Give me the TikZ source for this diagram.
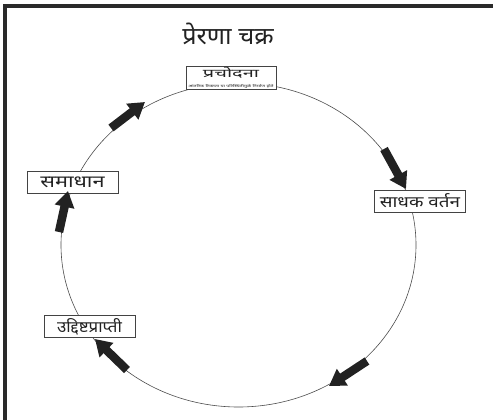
\documentclass[tikz,border=0pt]{standalone}
\usepackage{fontspec}
\newfontfamily\deva[Script=Devanagari]{Noto Sans}
\usetikzlibrary{arrows.meta}
\definecolor{framec}{HTML}{2A2A2A}
\definecolor{inkc}{HTML}{222222}
\begin{document}
\begin{tikzpicture}[x=1pt,y=-1pt,
  box/.style={draw=inkc!85, line width=0.8pt, fill=white, text=inkc, inner sep=1pt,
    minimum width=91pt, minimum height=22pt, align=center},
  blockarrow/.style={line width=8.5pt, draw=inkc, -{Triangle[width=19pt,length=16pt]}},
  cycleline/.style={draw=black!70, line width=0.6pt}]
\useasboundingbox (0,0) rectangle (493,420);
\begin{scope}
  \clip (0,0) rectangle (493,420);
  \fill[white] (0,0) rectangle (493,420);
  \draw[framec, line width=4pt] (5,6.5) rectangle (540,460);
\end{scope}
% cycle
\draw[cycleline] (238.5,245) ellipse [x radius=177.5, y radius=162];
% title
\node[text=inkc, font=\deva\fontsize{24}{28}\selectfont] (title) at (228,34) {\scalebox{1.05}[1]{प्रेरणा चक्र}};
% nodes
\node[box, minimum width=90pt, inner sep=0.5pt] (prachodana) at (231,78)
  {\scalebox{2}[1.15]{\deva\bfseries\fontsize{10}{10}\selectfont प्रचोदना}\\[-2pt]\scalebox{1.55}[1]{\deva\fontsize{3.4}{4}\selectfont आंतरिक रिक्तता या परिस्थितीमुळे निर्माण होते}};
\node[box] (sadhak) at (420,201) {\scalebox{1.45}[1.2]{\deva\fontsize{13}{14}\selectfont साधक वर्तन}};
\node[box] (samadhan) at (72.5,182) {\scalebox{1.55}[1.2]{\deva\bfseries\fontsize{14}{16}\selectfont समाधान}};
\node[box] (uddisht) at (89.5,326.5) {\scalebox{1.3}[1.2]{\deva\fontsize{13}{14}\selectfont उद्दिष्टप्राप्ती}};
% arrows along cycle
\coordinate (a1s) at (111,128); \coordinate (a1e) at (145,102);
\coordinate (a2s) at (384,149); \coordinate (a2e) at (406,189);
\coordinate (a3s) at (367,361); \coordinate (a3e) at (329,386);
\coordinate (a4s) at (127,370); \coordinate (a4e) at (95,339);
\coordinate (a5s) at (59,232); \coordinate (a5e) at (68,191);
\draw[blockarrow] (a1s) -- (a1e);
\draw[blockarrow] (a2s) -- (a2e);
\draw[blockarrow] (a3s) -- (a3e);
\draw[blockarrow] (a4s) -- (a4e);
\draw[blockarrow] (a5s) -- (a5e);
\end{tikzpicture}
\end{document}
